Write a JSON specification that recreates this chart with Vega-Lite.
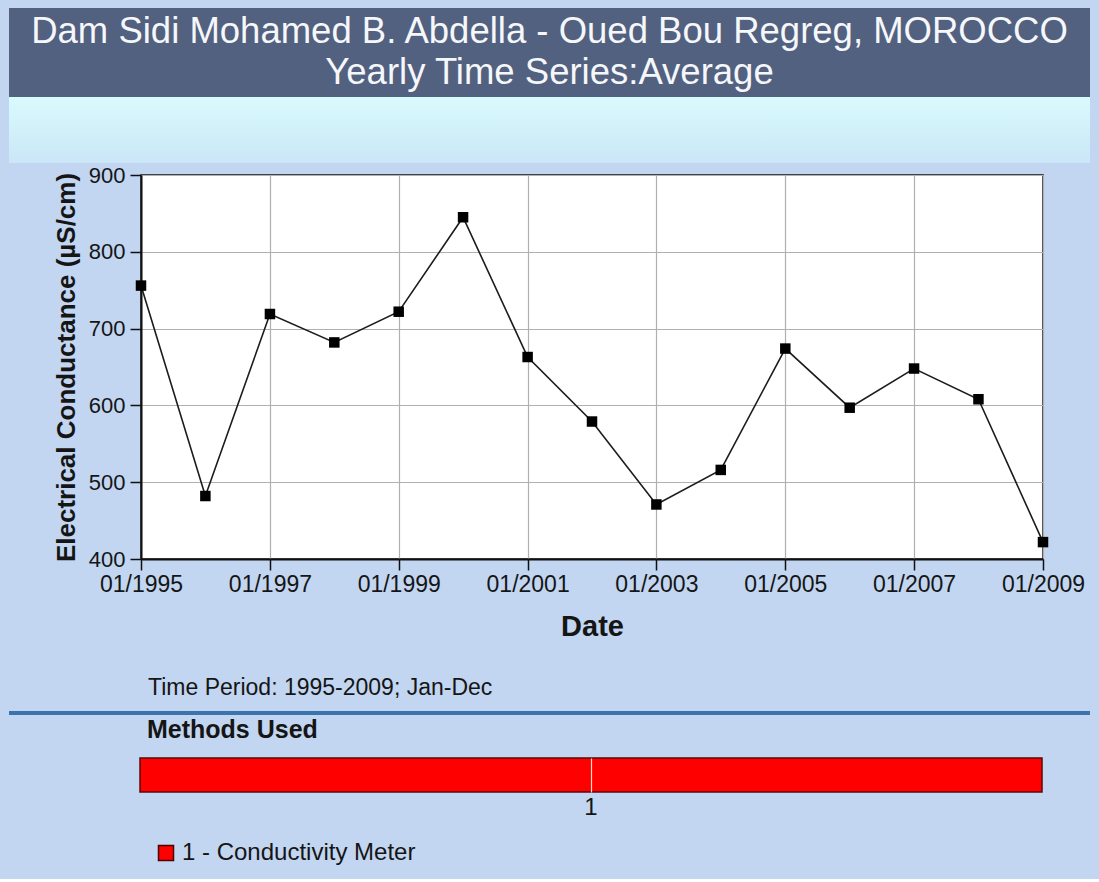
{
  "$schema": "https://vega.github.io/schema/vega-lite/v6.json",
  "background": "#c2d5f1",
  "padding": {"left": 9, "right": 9, "top": 8, "bottom": 0},
  "spacing": 0,
  "resolve": {"scale": {"color": "independent"}, "legend": {"color": "independent"}},
  "config": {
    "font": "Liberation Sans",
    "view": {"stroke": null},
    "axis": {"labelFont": "Liberation Sans", "titleFont": "Liberation Sans", "labelColor": "#151515", "titleColor": "#151515"},
    "legend": {"labelFont": "Liberation Sans"},
    "title": {"font": "Liberation Sans"}
  },
  "vconcat": [
    {
      "width": 1081,
      "height": 89,
      "view": {"stroke": null, "fill": "#52617f"},
      "data": {"values": [
        {"line": 1, "text": "Dam Sidi Mohamed B. Abdella - Oued Bou Regreg, MOROCCO"},
        {"line": 2, "text": "Yearly Time Series:Average"}
      ]},
      "mark": {"type": "text", "fontSize": 36.5, "color": "#f5f7fa", "baseline": "middle", "align": "center"},
      "encoding": {
        "y": {"field": "line", "type": "ordinal", "axis": null, "scale": {"type": "point", "padding": 0.585, "align": 0.5}},
        "text": {"field": "text"}
      }
    },
    {
      "width": 1081,
      "height": 66,
      "view": {
        "stroke": null,
        "fill": {
          "gradient": "linear",
          "x1": 0, "y1": 0, "x2": 0, "y2": 1,
          "stops": [
            {"offset": 0, "color": "#d8fbfd"},
            {"offset": 1, "color": "#cbe6f7"}
          ]
        }
      },
      "data": {"values": []},
      "mark": "point"
    },
    {
      "spacing": 10,
      "resolve": {"scale": {"color": "independent"}, "legend": {"color": "independent"}},
      "vconcat": [
        {
          "spacing": 0,
          "hconcat": [
            {"width": 43, "height": 384, "data": {"values": []}, "mark": "point"},
            {
              "width": 902,
              "height": 384,
              "view": {"stroke": "#141414", "strokeWidth": 1.5, "fill": "#ffffff"},
              "data": {"values": [
                {"date": "1995-01-01T00:00:00", "ec": 756},
                {"date": "1996-01-01T00:00:00", "ec": 482},
                {"date": "1997-01-01T00:00:00", "ec": 719},
                {"date": "1998-01-01T00:00:00", "ec": 682},
                {"date": "1999-01-01T00:00:00", "ec": 722},
                {"date": "2000-01-01T00:00:00", "ec": 845},
                {"date": "2001-01-01T00:00:00", "ec": 663},
                {"date": "2002-01-01T00:00:00", "ec": 579},
                {"date": "2003-01-01T00:00:00", "ec": 471},
                {"date": "2004-01-01T00:00:00", "ec": 516},
                {"date": "2005-01-01T00:00:00", "ec": 674},
                {"date": "2006-01-01T00:00:00", "ec": 597},
                {"date": "2007-01-01T00:00:00", "ec": 648},
                {"date": "2008-01-01T00:00:00", "ec": 608},
                {"date": "2009-01-01T00:00:00", "ec": 422}
              ]},
              "title": {"text": "Time Period: 1995-2009; Jan-Dec", "orient": "bottom", "anchor": "start", "frame": "group", "dx": 7, "offset": 36, "fontSize": 23, "fontWeight": "normal", "color": "#151515"},
              "encoding": {
                "x": {
                  "field": "date", "type": "temporal", "title": "Date",
                  "scale": {"domain": [{"year": 1995, "month": 1, "date": 1}, {"year": 2009, "month": 1, "date": 1}]},
                  "axis": {
                    "values": [
                      {"year": 1995, "month": 1, "date": 1},
                      {"year": 1997, "month": 1, "date": 1},
                      {"year": 1999, "month": 1, "date": 1},
                      {"year": 2001, "month": 1, "date": 1},
                      {"year": 2003, "month": 1, "date": 1},
                      {"year": 2005, "month": 1, "date": 1},
                      {"year": 2007, "month": 1, "date": 1},
                      {"year": 2009, "month": 1, "date": 1}
                    ],
                    "format": "%m/%Y",
                    "labelFontSize": 23, "labelPadding": 3, "labelFlush": false, "labelOverlap": false,
                    "tickSize": 11, "tickColor": "#111111", "tickWidth": 1.5,
                    "domainColor": "#111111", "domainWidth": 2,
                    "gridColor": "#b0b0b0", "gridWidth": 1.2,
                    "titleFontSize": 29, "titleFontWeight": "bold", "titlePadding": 16
                  }
                },
                "y": {
                  "field": "ec", "type": "quantitative", "title": "Electrical Conductance  (µS/cm)",
                  "scale": {"domain": [400, 900], "nice": false, "zero": false},
                  "axis": {
                    "values": [400, 500, 600, 700, 800, 900],
                    "labelFontSize": 22, "labelPadding": 5,
                    "tickSize": 11, "tickColor": "#111111", "tickWidth": 1.5,
                    "domainColor": "#111111", "domainWidth": 2,
                    "gridColor": "#b0b0b0", "gridWidth": 1.2,
                    "titleFontSize": 26, "titleFontWeight": "bold", "titlePadding": 9
                  }
                }
              },
              "layer": [
                {"mark": {"type": "line", "color": "#1c1c1c", "strokeWidth": 1.6}},
                {"mark": {"type": "square", "size": 110, "color": "#000000", "filled": true, "opacity": 1}}
              ]
            }
          ]
        },
        {
          "spacing": 3,
          "resolve": {"scale": {"color": "independent"}, "legend": {"color": "independent"}},
          "vconcat": [
            {"width": 1081, "height": 4, "view": {"fill": "#3b73ad", "stroke": null}, "data": {"values": []}, "mark": "point"},
            {
              "spacing": 0,
              "resolve": {"scale": {"color": "independent"}, "legend": {"color": "independent"}},
              "hconcat": [
                {"width": 130, "height": 34, "data": {"values": []}, "mark": "point"},
                {
                  "width": 902,
                  "height": 34,
                  "view": {"stroke": null},
                  "title": {"text": "Methods Used", "anchor": "start", "frame": "group", "dx": 7, "offset": 14, "fontSize": 25, "fontWeight": "bold", "color": "#151515"},
                  "data": {"values": [{"method": "1", "name": "1 - Conductivity Meter"}]},
                  "mark": {"type": "rect", "stroke": "#5a0808", "strokeWidth": 1.5},
                  "encoding": {
                    "x": {
                      "field": "method", "type": "nominal", "title": null,
                      "scale": {"paddingInner": 0, "paddingOuter": 0},
                      "axis": {"labelAngle": 0, "domain": false, "ticks": false, "tickSize": 0, "labelPadding": 3, "labelFontSize": 24, "grid": true, "gridColor": "#ffdcc8", "gridWidth": 1.2, "bandPosition": 0.5, "zindex": 1}
                    },
                    "color": {
                      "field": "name", "type": "nominal",
                      "scale": {"range": ["#ff0000"]},
                      "legend": {"title": null, "orient": "bottom", "symbolType": "square", "symbolSize": 225, "symbolStrokeColor": "#4a0000", "symbolStrokeWidth": 1.5, "labelFontSize": 24, "labelColor": "#151515", "labelOffset": 4, "labelLimit": 500, "padding": 14, "offset": 8}
                    }
                  }
                }
              ]
            }
          ]
        }
      ]
    }
  ]
}
